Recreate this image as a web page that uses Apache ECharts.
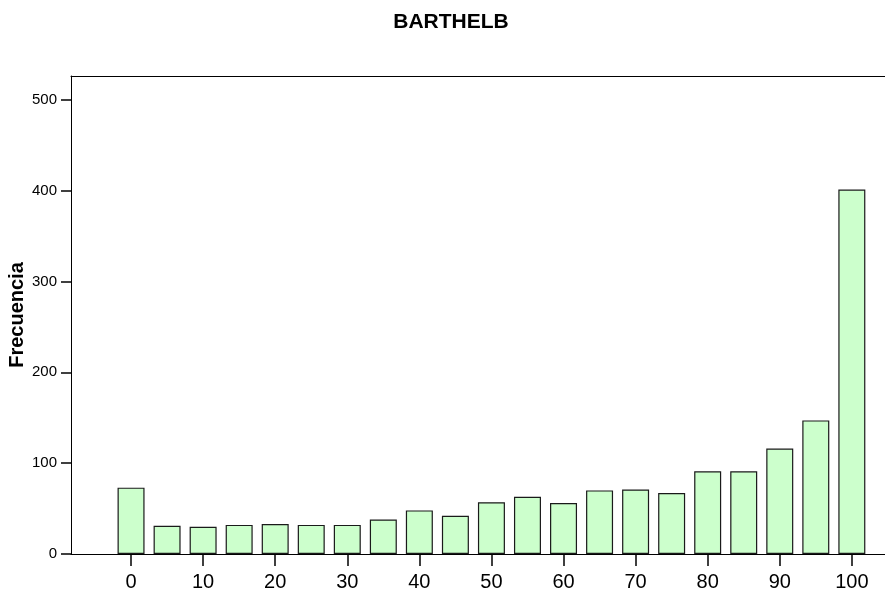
<!DOCTYPE html>
<html>
<head>
<meta charset="utf-8">
<script src="https://cdn.jsdelivr.net/npm/echarts@6/dist/echarts.min.js"></script>
<style>
  html, body { margin: 0; padding: 0; background: #fff; }
  #main { width: 885px; height: 599px; }
</style>
</head>
<body>
<div id="main"></div>
<script>
// datos del histograma BARTHELB
var categorias = [0, 5, 10, 15, 20, 25, 30, 35, 40, 45, 50, 55, 60, 65, 70, 75, 80, 85, 90, 95, 100];
var frecuencias = [73, 31, 30, 32, 33, 32, 32, 38, 48, 42, 57, 63, 56, 70, 71, 67, 91, 91, 116, 147, 401];
var xTicks = [0, 10, 20, 30, 40, 50, 60, 70, 80, 90, 100];
var yTicks = [0, 100, 200, 300, 400, 500];

var myChart = echarts.init(document.getElementById('main'));

var puntos = categorias.map(function (c, i) {
    return [c, frecuencias[i]];
});

var option = {
    animation: false,
    backgroundColor: '#fff',
    textStyle: { fontFamily: 'Liberation Sans, Arial, sans-serif' },
    title: {
        text: 'BARTHELB',
        left: 451,
        textAlign: 'center',
        top: 12,
        padding: 0,
        textStyle: {
            fontSize: 21,
            fontWeight: 'bold',
            color: '#000',
            fontFamily: 'Liberation Sans, Arial, sans-serif'
        }
    },
    grid: { left: 71, right: 0, top: 76, bottom: 45, containLabel: false, outerBoundsMode: 'none' },
    xAxis: [{
        type: 'value',
        min: -8.33,
        max: 104.6,
        axisLine: { show: true, onZero: false, lineStyle: { color: '#000', width: 1 } },
        axisTick: { show: true, customValues: xTicks, length: 12, lineStyle: { color: '#000', width: 1.5 } },
        axisLabel: { show: true, customValues: xTicks, fontSize: 20, color: '#000', margin: 18 },
        splitLine: { show: false }
    }, {
        type: 'value',
        position: 'top',
        min: -8.33,
        max: 104.6,
        axisLine: { show: true, onZero: false, lineStyle: { color: '#000', width: 1 } },
        axisTick: { show: false },
        axisLabel: { show: false },
        splitLine: { show: false }
    }],
    yAxis: {
        type: 'value',
        min: 0,
        max: 526,
        name: 'Frecuencia',
        nameLocation: 'middle',
        nameGap: 44,
        nameMoveOverlap: false,
        nameTextStyle: { fontSize: 20, fontWeight: 'bold', color: '#000' },
        axisLine: { show: true, onZero: false, lineStyle: { color: '#000', width: 1 } },
        axisTick: { show: true, customValues: yTicks, length: 10, lineStyle: { color: '#000', width: 1.5 } },
        axisLabel: { customValues: yTicks, fontSize: 15, color: '#000', margin: 14 },
        splitLine: { show: false }
    },
    series: [{
        type: 'bar',
        xAxisIndex: 0,
        barWidth: 27,
        data: puntos,
        itemStyle: {
            color: '#ccffcc',
            borderColor: '#1a1a1a',
            borderWidth: 1.2
        }
    }]
};
myChart.setOption(option);
</script>
</body>
</html>
